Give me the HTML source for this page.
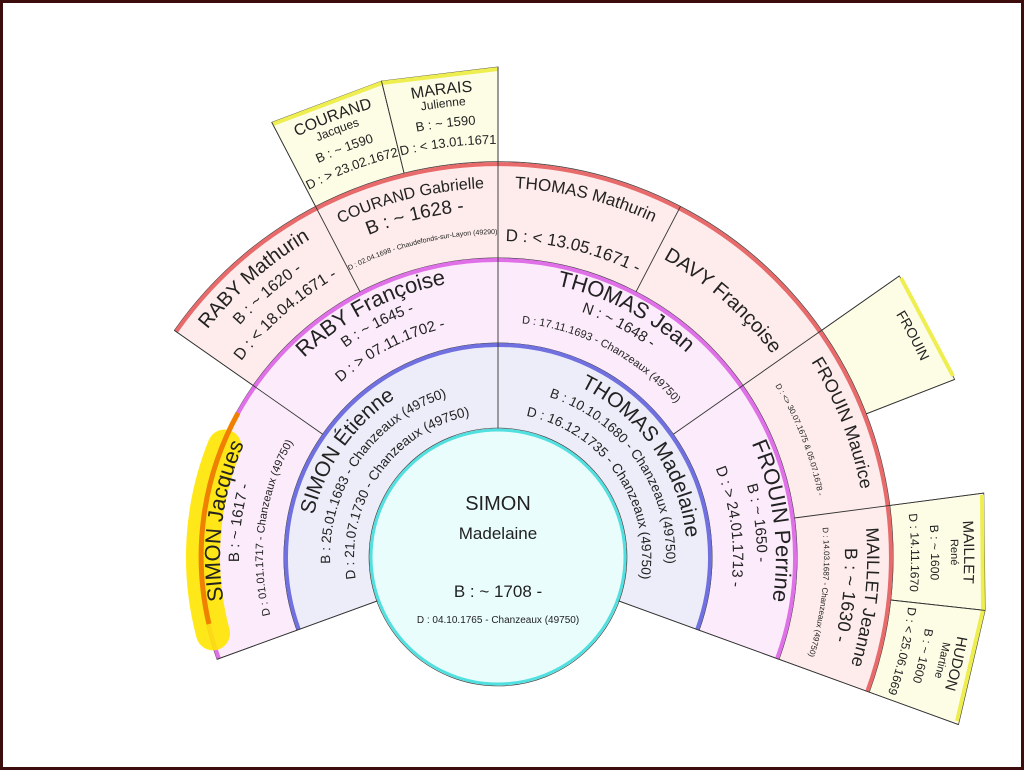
<!DOCTYPE html>
<html><head><meta charset="utf-8">
<style>
html,body{margin:0;padding:0;background:#fff;}
body{width:1024px;height:770px;overflow:hidden;}
svg{display:block;}
text{font-family:"Liberation Sans",sans-serif;fill:#222;}
</style></head>
<body>
<svg width="1024" height="770" viewBox="0 0 1024 770" xmlns="http://www.w3.org/2000/svg" xmlns:xlink="http://www.w3.org/1999/xlink">
<defs>
<path id="a144" d="M -124.7,-72 A 144 144 0 0 1 124.7,-72"/>
<path id="a168" d="M -145.5,-84 A 168 168 0 0 1 145.5,-84"/>
<path id="a189" d="M -163.7,-94.5 A 189 189 0 0 1 163.7,-94.5"/>
<path id="a235" d="M -203.5,-117.5 A 235 235 0 0 1 203.5,-117.5"/>
<path id="a259" d="M -224.3,-129.5 A 259 259 0 0 1 224.3,-129.5"/>
<path id="a278" d="M -240.7,-139 A 278 278 0 0 1 240.7,-139"/>
<path id="a316" d="M -273.7,-158 A 316 316 0 0 1 273.7,-158"/>
<path id="a323" d="M -279.7,-161.5 A 323 323 0 0 1 279.7,-161.5"/>
<path id="a326" d="M -282.3,-163 A 326 326 0 0 1 282.3,-163"/>
<path id="a341" d="M -295.3,-170.5 A 341 341 0 0 1 295.3,-170.5"/>
<path id="a347" d="M -300.5,-173.5 A 347 347 0 0 1 300.5,-173.5"/>
<path id="a369" d="M -319.6,-184.5 A 369 369 0 0 1 319.6,-184.5"/>
<path id="a413" d="M -357.7,-206.5 A 413 413 0 0 1 357.7,-206.5"/>
<path id="a433" d="M -375,-216.5 A 433 433 0 0 1 375,-216.5"/>
<path id="a453" d="M -392.3,-226.5 A 453 453 0 0 1 392.3,-226.5"/>
<path id="a466" d="M -403.6,-233 A 466 466 0 0 1 403.6,-233"/>
</defs>

<rect x="1.5" y="1.5" width="1021" height="767" fill="#fff" stroke="#3d0c0c" stroke-width="3"/>

<!-- gen4 boxes -->
<g fill="#fdfde6" stroke="#444" stroke-width="0.8">
<path d="M 315.6,206.6 L 271.8,122.4 L 381.5,81.1 L 404.1,173.3 A 395 395 0 0 0 315.6,206.6 Z"/>
<path d="M 404.1,173.3 L 381.5,81.1 L 498,67 L 498,162 A 395 395 0 0 0 404.1,173.3 Z"/>
<path d="M 821.6,330.4 L 899.4,275.9 L 954.7,379.4 L 866.1,413.9 A 395 395 0 0 0 821.6,330.4 Z"/>
<path d="M 889.6,505.5 L 983.8,493.1 L 985.1,610.4 L 890.7,600 A 395 395 0 0 0 889.6,505.5 Z"/>
<path d="M 890.7,600 L 985.1,610.4 L 958.5,724.6 L 869.2,692.1 A 395 395 0 0 0 890.7,600 Z"/>
</g>
<g stroke="#eeee50" stroke-width="4" fill="none">
<path d="M 273,124 L 382,83 L 498,69"/>
<path d="M 901,278 L 953,376"/>
<path d="M 982,495 L 983,610 L 957,721"/>
</g>

<!-- rings -->
<path d="M 174.4,330.4 A 395 395 0 0 1 869.2,692.1 L 779,659.3 A 299 299 0 0 0 253.1,385.5 Z" fill="#fdeceb" stroke="#444" stroke-width="0.8"/>
<path d="M 176.1,331.6 A 393 393 0 0 1 867.3,691.4" fill="none" stroke="#e86a6a" stroke-width="4"/>
<path d="M 217,659.3 A 299 299 0 1 1 779,659.3 L 699.1,630.2 A 214 214 0 1 0 296.9,630.2 Z" fill="#fcecfb" stroke="#444" stroke-width="0.8"/>
<path d="M 218.9,658.6 A 297 297 0 1 1 777.1,658.6" fill="none" stroke="#e070e8" stroke-width="4"/>
<path d="M 296.9,630.2 A 214 214 0 1 1 699.1,630.2 L 618.3,600.8 A 128 128 0 1 0 377.7,600.8 Z" fill="#ededf9" stroke="#444" stroke-width="0.8"/>
<path d="M 298.8,629.5 A 212 212 0 1 1 697.2,629.5" fill="none" stroke="#7070e0" stroke-width="4"/>

<!-- dividers -->
<g stroke="#333" stroke-width="0.9" fill="none">
<line x1="498" y1="429" x2="498" y2="67"/>
<line x1="322.7" y1="434.2" x2="174.4" y2="330.4"/>
<line x1="673.3" y1="434.2" x2="899.4" y2="275.9"/>
<line x1="360" y1="291.8" x2="271.8" y2="122.4"/>
<line x1="636" y1="291.8" x2="680.4" y2="206.6"/>
<line x1="794.4" y1="518" x2="983.8" y2="493.1"/>
<line x1="404.1" y1="173.3" x2="381.5" y2="81.1"/>
<line x1="866.1" y1="413.9" x2="954.7" y2="379.4"/>
<line x1="890.7" y1="600" x2="985.1" y2="610.4"/>
<line x1="618.3" y1="600.8" x2="958.5" y2="724.6"/>
<line x1="377.7" y1="600.8" x2="217" y2="659.3"/>
</g>

<!-- centre -->
<circle cx="498" cy="557" r="127" fill="#eafdfd" stroke="#50e0e0" stroke-width="3"/>
<circle cx="498" cy="557" r="129" fill="none" stroke="#333" stroke-width="0.6"/>

<!-- highlight -->
<path d="M 224.5,446.5 A 295 295 0 0 0 213,633.4" fill="none" stroke="#ffe600" stroke-width="34" stroke-linecap="round" opacity="0.9"/>
<path d="M 238,413 A 297 297 0 0 0 209,624" fill="none" stroke="#f08000" stroke-width="5"/>

<!-- centre text -->
<g text-anchor="middle">
<text x="498" y="510" font-size="20">SIMON</text>
<text x="498" y="539" font-size="17">Madelaine</text>
<text x="498" y="597" font-size="17">B : ~ 1708 -</text>
<text x="498" y="623" font-size="10">D : 04.10.1765 - Chanzeaux (49750)</text>
</g>

<g text-anchor="middle">
<g transform="translate(498,557) rotate(-55)">
<text font-size="21"><textPath href="#a189" xlink:href="#a189" startOffset="50%">SIMON Étienne</textPath></text>
<text font-size="13.5"><textPath href="#a168" xlink:href="#a168" startOffset="50%">B : 25.01.1683 - Chanzeaux (49750)</textPath></text>
<text font-size="13.5"><textPath href="#a144" xlink:href="#a144" startOffset="50%">D : 21.07.1730 - Chanzeaux (49750)</textPath></text>
</g>
<g transform="translate(498,557) rotate(55)">
<text font-size="21"><textPath href="#a189" xlink:href="#a189" startOffset="50%">THOMAS Madelaine</textPath></text>
<text font-size="13.5"><textPath href="#a168" xlink:href="#a168" startOffset="50%">B : 10.10.1680 - Chanzeaux (49750)</textPath></text>
<text font-size="13.5"><textPath href="#a144" xlink:href="#a144" startOffset="50%">D : 16.12.1735 - Chanzeaux (49750)</textPath></text>
</g>
<g transform="translate(498,557) rotate(-82.5)">
<text font-size="22"><textPath href="#a278" xlink:href="#a278" startOffset="50%">SIMON Jacques</textPath></text>
<text font-size="15"><textPath href="#a259" xlink:href="#a259" startOffset="50%">B : ~ 1617 -</textPath></text>
<text font-size="11"><textPath href="#a235" xlink:href="#a235" startOffset="50%">D : 01.01.1717 - Chanzeaux (49750)</textPath></text>
</g>
<g transform="translate(498,557) rotate(-27.5)">
<text font-size="22"><textPath href="#a278" xlink:href="#a278" startOffset="50%">RABY Françoise</textPath></text>
<text font-size="15"><textPath href="#a259" xlink:href="#a259" startOffset="50%">B : ~ 1645 -</textPath></text>
<text font-size="15"><textPath href="#a235" xlink:href="#a235" startOffset="50%">D : &gt; 07.11.1702 -</textPath></text>
</g>
<g transform="translate(498,557) rotate(27.5)">
<text font-size="22"><textPath href="#a278" xlink:href="#a278" startOffset="50%">THOMAS Jean</textPath></text>
<text font-size="15"><textPath href="#a259" xlink:href="#a259" startOffset="50%">N : ~ 1648 -</textPath></text>
<text font-size="11"><textPath href="#a235" xlink:href="#a235" startOffset="50%">D : 17.11.1693 - Chanzeaux (49750)</textPath></text>
</g>
<g transform="translate(498,557) rotate(82.5)">
<text font-size="22"><textPath href="#a278" xlink:href="#a278" startOffset="50%">FROUIN Perrine</textPath></text>
<text font-size="15"><textPath href="#a259" xlink:href="#a259" startOffset="50%">B : ~ 1650 -</textPath></text>
<text font-size="15"><textPath href="#a235" xlink:href="#a235" startOffset="50%">D : &gt; 24.01.1713 -</textPath></text>
</g>
<g transform="translate(498,557) rotate(-41.25)">
<text font-size="20"><textPath href="#a369" xlink:href="#a369" startOffset="50%">RABY Mathurin</textPath></text>
<text font-size="16"><textPath href="#a347" xlink:href="#a347" startOffset="50%">B : ~ 1620 -</textPath></text>
<text font-size="16"><textPath href="#a323" xlink:href="#a323" startOffset="50%">D : &lt; 18.04.1671 -</textPath></text>
</g>
<g transform="translate(498,557) rotate(-13.75)">
<text font-size="16"><textPath href="#a369" xlink:href="#a369" startOffset="50%">COURAND Gabrielle</textPath></text>
<text font-size="19"><textPath href="#a347" xlink:href="#a347" startOffset="50%">B : ~ 1628 -</textPath></text>
<text font-size="7"><textPath href="#a323" xlink:href="#a323" startOffset="50%">D : 02.04.1698 - Chaudefonds-sur-Layon (49290)</textPath></text>
</g>
<g transform="translate(498,557) rotate(13.75)">
<text font-size="17"><textPath href="#a369" xlink:href="#a369" startOffset="50%">THOMAS Mathurin</textPath></text>
<text font-size="17"><textPath href="#a316" xlink:href="#a316" startOffset="50%">D : &lt; 13.05.1671 -</textPath></text>
</g>
<g transform="translate(498,557) rotate(41.25)">
<text font-size="20"><textPath href="#a341" xlink:href="#a341" startOffset="50%">DAVY Françoise</textPath></text>
</g>
<g transform="translate(498,557) rotate(68.75)">
<text font-size="18"><textPath href="#a369" xlink:href="#a369" startOffset="50%">FROUIN Maurice</textPath></text>
<text font-size="8"><textPath href="#a326" xlink:href="#a326" startOffset="50%">D : &lt;&gt; 30.07.1675 &amp; 05.07.1678 -</textPath></text>
</g>
<g transform="translate(498,557) rotate(96.25)">
<text font-size="18"><textPath href="#a369" xlink:href="#a369" startOffset="50%">MAILLET Jeanne</textPath></text>
<text font-size="18"><textPath href="#a347" xlink:href="#a347" startOffset="50%">B : ~ 1630 -</textPath></text>
<text font-size="8"><textPath href="#a326" xlink:href="#a326" startOffset="50%">D : 14.03.1687 - Chanzeaux (49750)</textPath></text>
</g>
<g transform="translate(498,557) rotate(-20.6)">
<text font-size="16"><textPath href="#a466" xlink:href="#a466" startOffset="50%">COURAND</textPath></text>
<text font-size="12"><textPath href="#a453" xlink:href="#a453" startOffset="50%">Jacques</textPath></text>
<text font-size="13"><textPath href="#a433" xlink:href="#a433" startOffset="50%">B : ~ 1590</textPath></text>
<text font-size="13"><textPath href="#a413" xlink:href="#a413" startOffset="50%">D : &gt; 23.02.1672</textPath></text>
</g>
<g transform="translate(498,557) rotate(-6.9)">
<text font-size="16"><textPath href="#a466" xlink:href="#a466" startOffset="50%">MARAIS</textPath></text>
<text font-size="12"><textPath href="#a453" xlink:href="#a453" startOffset="50%">Julienne</textPath></text>
<text font-size="13"><textPath href="#a433" xlink:href="#a433" startOffset="50%">B : ~ 1590</textPath></text>
<text font-size="13"><textPath href="#a413" xlink:href="#a413" startOffset="50%">D : &lt; 13.01.1671</textPath></text>
</g>
<g transform="translate(498,557) rotate(61.9)">
<text font-size="14"><textPath href="#a466" xlink:href="#a466" startOffset="50%">FROUIN</textPath></text>
</g>
<g transform="translate(498,557) rotate(89.4)">
<text font-size="15"><textPath href="#a466" xlink:href="#a466" startOffset="50%">MAILLET</textPath></text>
<text font-size="11"><textPath href="#a453" xlink:href="#a453" startOffset="50%">René</textPath></text>
<text font-size="12"><textPath href="#a433" xlink:href="#a433" startOffset="50%">B : ~ 1600</textPath></text>
<text font-size="12"><textPath href="#a413" xlink:href="#a413" startOffset="50%">D : 14.11.1670</textPath></text>
</g>
<g transform="translate(498,557) rotate(103.1)">
<text font-size="15"><textPath href="#a466" xlink:href="#a466" startOffset="50%">HUDON</textPath></text>
<text font-size="11"><textPath href="#a453" xlink:href="#a453" startOffset="50%">Martine</textPath></text>
<text font-size="12"><textPath href="#a433" xlink:href="#a433" startOffset="50%">B : ~ 1600</textPath></text>
<text font-size="12"><textPath href="#a413" xlink:href="#a413" startOffset="50%">D : &lt; 25.06.1669</textPath></text>
</g>
</g>
</svg>
</body></html>
